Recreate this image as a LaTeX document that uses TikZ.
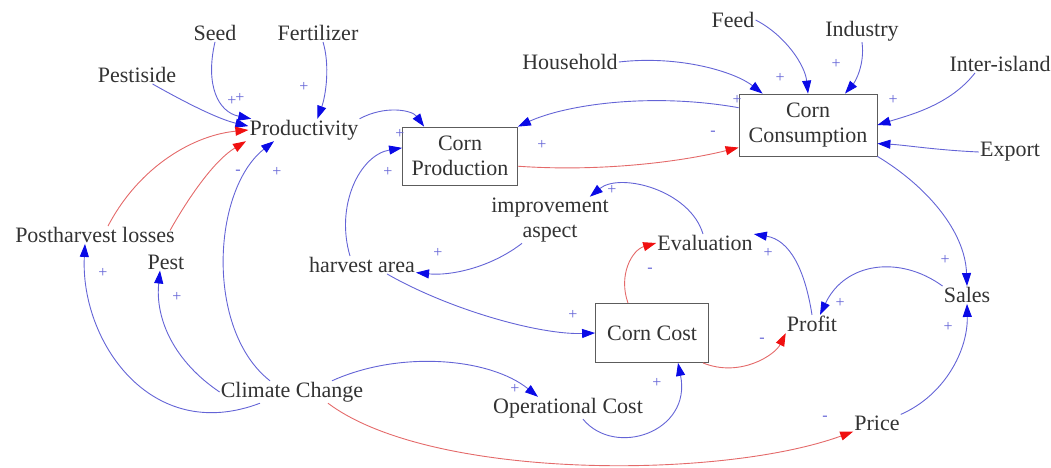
\documentclass[tikz,border=0pt]{standalone}
\usepackage{fontspec}
\setmainfont{Liberation Serif}
\usetikzlibrary{arrows.meta}
\definecolor{linkblue}{HTML}{6464D6}
\definecolor{tipblue}{HTML}{0A0AE6}
\definecolor{linkred}{HTML}{E46A6A}
\definecolor{tipred}{HTML}{F01010}
\definecolor{ink}{HTML}{333333}

\begin{document}
\begin{tikzpicture}[x=1pt,y=-1pt,
    var/.style={text=ink,font=\fontsize{22}{25}\selectfont,inner sep=1pt,align=center},
    stock/.style={var,draw=ink!80,line width=0.8pt},
    sign/.style={text=linkblue,font=\fontsize{16}{16}\selectfont,inner sep=0pt},
    blink/.style={linkblue,line width=0.9pt,-{Triangle[length=13pt,width=9pt,color=tipblue]}},
    rlink/.style={linkred,line width=0.9pt,-{Triangle[length=13pt,width=9pt,color=tipred]}}]
    \useasboundingbox (0,0) rectangle (1051,468);
    % variables
    \node[var] (seed) at (215,33) {Seed};
    \node[var] (fert) at (318,33) {Fertilizer};
    \node[var] (pesti) at (137,75) {Pestiside};
    \node[var] (prod) at (304,130) {Productivity};
    \node[var] (house) at (570,62) {Household};
    \node[var] (feed) at (733,20) {Feed};
    \node[var] (indus) at (862,31) {Industry};
    \node[var] (inter) at (1000,64) {Inter-island};
    \node[var] (export) at (1010,152) {Export};
    \node[var] (impr) at (550,220) {improvement\\aspect};
    \node[var] (eval) at (705,243) {Evaluation};
    \node[var] (harv) at (362,265) {harvest area};
    \node[var] (post) at (95,235) {Postharvest losses};
    \node[var] (pest) at (166,262) {Pest};
    \node[var] (profit) at (812,324) {Profit};
    \node[var] (sales) at (967,295) {Sales};
    \node[var] (climate) at (292,392) {Climate Change};
    \node[var] (opcost) at (568,408) {Operational Cost};
    \node[var] (price) at (877,423) {Price};
    \node[stock,minimum width=138pt,minimum height=62pt] (ccons) at (808,125) {Corn\\Consumption};
    \node[stock,minimum width=115pt,minimum height=58pt] (cprod) at (460,156) {Corn\\Production};
    \node[stock,minimum width=113pt,minimum height=59pt] (ccost) at (652,333) {Corn Cost};
    % into productivity
    \draw[blink] (seed.south) .. controls (205,85) and (218,112) .. (prod.168);
    \draw[blink] (pesti.-30) .. controls (195,108) and (222,120) .. (prod.176);
    \draw[blink] ([xshift=5pt]fert.south) .. controls (330,65) and (326,95) .. (prod.40);
    \draw[rlink] ([xshift=13pt]post.north) .. controls (140,165) and (195,135) .. (prod.west);
    \draw[rlink] ([xshift=4pt,yshift=23pt]pest.north) .. controls (190,195) and (215,160) .. ([xshift=-58pt]prod.south);
    \draw[blink] ([xshift=-22pt]climate.north) .. controls (205,330) and (212,190) .. ([xshift=-30pt]prod.south);
    % production and consumption
    \draw[blink] (prod.north east) .. controls (385,105) and (412,110) .. ([xshift=22pt]cprod.north west);
    \draw[blink] ([xshift=-12pt]harv.north) .. controls (335,205) and (360,155) .. (cprod.172);
    \draw[blink] (ccons.166) .. controls (650,92) and (565,105) .. (cprod.north east);
    \draw[rlink] (cprod.-10) .. controls (600,172) and (680,162) .. (ccons.198);
    \draw[blink] (house.east) .. controls (680,55) and (735,72) .. ([xshift=24pt]ccons.north west);
    \draw[blink] (feed.east) .. controls (785,35) and (805,65) .. (ccons.north);
    \draw[blink] (indus.south) .. controls (865,65) and (855,82) .. ([xshift=37pt]ccons.north);
    \draw[blink] ([xshift=-25pt]inter.south) .. controls (950,105) and (910,115) .. (ccons.east);
    \draw[blink] (export.west) .. controls (935,150) and (905,145) .. (ccons.-15);
    % sales, profit, cost
    \draw[blink] (ccons.south east) .. controls (925,185) and (965,230) .. (sales.north);
    \draw[blink] (sales.north west) .. controls (900,255) and (845,262) .. ([xshift=8pt]profit.north);
    \draw[blink] (profit.north) .. controls (805,270) and (790,240) .. (eval.north east);
    \draw[blink] ([xshift=-2pt]eval.north) .. controls (690,190) and (620,172) .. ([xshift=-20pt]impr.north east);
    \draw[blink] ([xshift=-28pt]impr.south) .. controls (490,268) and (450,276) .. (harv.-8);
    \draw[blink] ([xshift=25pt]harv.south) .. controls (450,310) and (540,335) .. (ccost.west);
    \draw[rlink] ([xshift=-24pt]ccost.north) .. controls (618,275) and (632,250) .. (eval.west);
    \draw[rlink] ([xshift=-6pt]ccost.south east) .. controls (740,378) and (775,355) .. (profit.south west);
    \draw[blink] ([xshift=15pt]opcost.south) .. controls (615,458) and (692,432) .. ([xshift=26pt]ccost.south);
    \draw[blink] ([xshift=40pt]climate.north) .. controls (400,350) and (490,358) .. ([xshift=-30pt]opcost.north);
    \draw[rlink] ([xshift=36pt]climate.south) .. controls (430,480) and (720,480) .. (price.south west);
    \draw[blink] (price.north east) .. controls (945,395) and (968,350) .. (sales.south);
    \draw[blink] (climate.west) .. controls (175,362) and (155,320) .. ([xshift=-6pt]pest.south);
    \draw[blink] ([xshift=-32pt]climate.south) .. controls (150,445) and (80,340) .. ([xshift=-10pt]post.south);
    % polarities
    \node[sign] (sseed) at (232,101) {+};
    \node[sign] (spesti) at (240,98) {+};
    \node[sign] (sfert) at (304,87) {+};
    \node[sign] (spest) at (238,172) {-};
    \node[sign] (sclim) at (277,172) {+};
    \node[sign] (sprod) at (400,134) {+};
    \node[sign] (sharv) at (388,172) {+};
    \node[sign] (scons) at (542,145) {+};
    \node[sign] (scprod) at (713,133) {-};
    \node[sign] (shouse) at (737,100) {+};
    \node[sign] (sfeed) at (780,78) {+};
    \node[sign] (sindus) at (836,64) {+};
    \node[sign] (sinter) at (893,100) {+};
    \node[sign] (ssales) at (945,260) {+};
    \node[sign] (sprofit) at (840,303) {+};
    \node[sign] (seval) at (768,253) {+};
    \node[sign] (simpr) at (612,190) {+};
    \node[sign] (sarea) at (438,253) {+};
    \node[sign] (scost) at (573,315) {+};
    \node[sign] (sceval) at (650,270) {-};
    \node[sign] (scprof) at (762,340) {-};
    \node[sign] (sop) at (657,383) {+};
    \node[sign] (sclop) at (515,389) {+};
    \node[sign] (sprice) at (825,418) {-};
    \node[sign] (spsales) at (948,327) {+};
    \node[sign] (sclpest) at (177,297) {+};
    \node[sign] (sclpost) at (103,273) {+};
  \end{tikzpicture}
\end{document}
